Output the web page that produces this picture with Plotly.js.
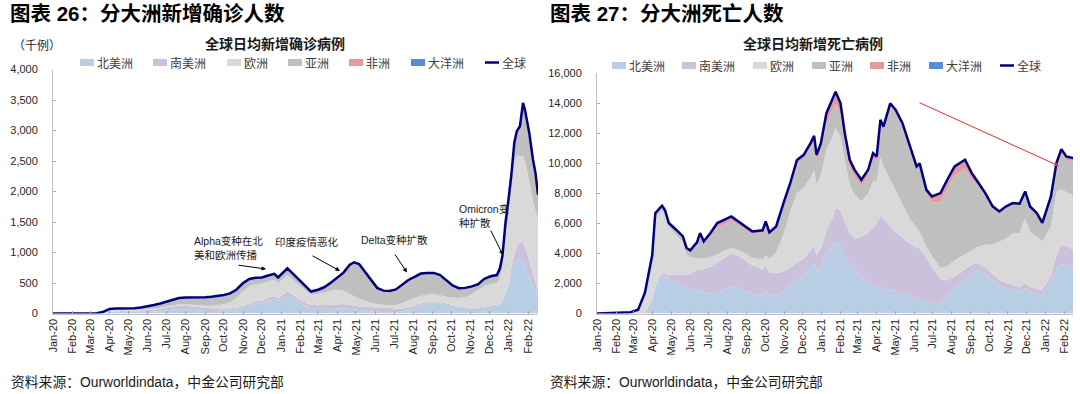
<!DOCTYPE html>
<html>
<head>
<meta charset="utf-8">
<script src="https://cdn.plot.ly/plotly-3.0.1.min.js"></script>
<style>
html,body{margin:0;padding:0;background:#fff;}
#chart{width:1080px;height:394px;}
</style>
</head>
<body>
<div id="chart"></div>
<script>
// ---------- shared ----------
const SERIES_NAMES = ['北美洲','南美洲','欧洲','亚洲','非洲','大洋洲'];
const TOTAL_NAME = '全球';
const SERIES_COLORS = ['#B9CDE5','#CCC1DA','#D9D9D9','#BFBFBF','#E19B9B','#558ED5'];
const TOTAL_COLOR = '#000080';
const TICK_DATES = ['2020-01-01','2020-02-01','2020-03-01','2020-04-01','2020-05-01','2020-06-01','2020-07-01','2020-08-01','2020-09-01','2020-10-01','2020-11-01','2020-12-01','2021-01-01','2021-02-01','2021-03-01','2021-04-01','2021-05-01','2021-06-01','2021-07-01','2021-08-01','2021-09-01','2021-10-01','2021-11-01','2021-12-01','2022-01-01','2022-02-01'];
const TICK_LABELS = ['Jan-20','Feb-20','Mar-20','Apr-20','May-20','Jun-20','Jul-20','Aug-20','Sep-20','Oct-20','Nov-20','Dec-20','Jan-21','Feb-21','Mar-21','Apr-21','May-21','Jun-21','Jul-21','Aug-21','Sep-21','Oct-21','Nov-21','Dec-21','Jan-22','Feb-22'];

// ---------- left chart: daily new cases (thousand) ----------
const L_DATES = ['2020-01-01','2020-01-21','2020-02-01','2020-02-11','2020-02-21','2020-03-01','2020-03-11','2020-03-21','2020-04-01','2020-04-11','2020-04-21','2020-05-01','2020-05-11','2020-05-21','2020-06-01','2020-06-11','2020-06-21','2020-07-01','2020-07-11','2020-07-21','2020-08-01','2020-08-11','2020-08-21','2020-09-01','2020-09-11','2020-09-21','2020-10-01','2020-10-11','2020-10-21','2020-11-01','2020-11-11','2020-11-21','2020-12-01','2020-12-11','2020-12-21','2020-12-27','2021-01-01','2021-01-11','2021-01-21','2021-02-01','2021-02-11','2021-02-18','2021-03-01','2021-03-11','2021-03-21','2021-04-01','2021-04-11','2021-04-21','2021-04-28','2021-05-06','2021-05-16','2021-05-26','2021-06-04','2021-06-14','2021-06-24','2021-07-04','2021-07-14','2021-07-24','2021-08-03','2021-08-13','2021-08-23','2021-09-03','2021-09-13','2021-09-23','2021-10-03','2021-10-13','2021-10-23','2021-11-03','2021-11-13','2021-11-23','2021-12-03','2021-12-13','2021-12-18','2021-12-22','2021-12-27','2022-01-01','2022-01-05','2022-01-10','2022-01-14','2022-01-19','2022-01-24','2022-01-27','2022-02-03','2022-02-09','2022-02-13','2022-02-17'];
const L_NA  = [0,0,0,0,0,0,0.3,5,27,33,35,34,31,28,26,27,35,50,64,72,68,60,52,46,41,44,46,52,62,90,125,165,180,215,235,205,230,300,240,170,115,90,80,75,73,78,82,75,68,58,45,36,30,25,22,22,30,55,90,135,165,175,165,148,128,105,85,82,88,100,118,135,150,190,330,450,650,820,870,880,860,780,600,440,370,300];
const L_SA  = [0,0,0,0,0,0,0,0.3,2,3,5,10,16,25,32,38,43,48,52,55,57,56,53,50,46,42,37,34,31,28,30,34,38,45,50,48,50,60,60,55,55,52,57,65,72,75,75,70,65,62,63,67,70,72,68,58,48,42,36,30,26,23,20,18,15,13,12,12,12,13,12,14,14,16,22,40,90,160,220,280,310,310,270,200,140,85];
const L_EU  = [0,0,0,0,0,0.3,3,16,38,36,30,24,20,18,17,17,17,17,18,19,22,26,30,35,40,50,68,100,160,250,290,280,270,265,270,245,260,270,250,220,185,165,185,205,230,235,215,180,150,120,95,72,55,45,42,55,90,118,122,120,120,118,115,110,118,138,168,228,285,340,355,345,420,550,900,1150,1250,1500,1500,1420,1410,1400,1300,1200,1180,1150];
const L_AS  = [0,0.5,2,3,2,1.7,1.7,3,6,8,10,14,18,24,37,49,62,70,79,95,102,108,113,126,141,142,147,136,128,122,110,95,90,84,80,77,82,90,75,73,55,45,60,77,117,193,288,464,546,559,465,352,251,215,214,232,268,302,324,345,334,334,319,256,193,155,152,120,92,114,118,120,130,150,190,200,200,250,340,440,824,814,752,645,580,390];
const L_AF  = [0,0,0,0,0,0,0,0.2,1,1,1.5,2,3,4,5,7,8,10,12,14,13,12,10,8,7,7,7,8,9,10,10,11,12,14,15,15,18,20,15,12,10,8,8,8,8,9,10,11,11,11,12,13,14,18,24,28,34,33,28,25,20,15,11,8,6,4,3,3,3,3,7,16,24,32,38,40,40,35,30,27,25,20,18,15,12,10];
const L_OC  = [0,0,0,0,0,0,0,0.2,0.5,0.3,0.1,0,0,0,0,0,0,0,0,0,0,0,0,0,0,0,0,0,0,0,0,0,0,0,0,0,0,0,0,0,0,0,0,0,0,0,0,0,0,0,0,0,0,0,0,0,0,0,0,0,0,0,0,0,0,0,0,0,0,0,0,0,2,12,20,20,20,35,30,23,25,20,20,20,18,15];
const L_TOT = [0,0.5,2,3,2,2,5,25,75,82,82,85,88,100,118,138,165,195,225,255,262,262,258,265,275,285,305,330,390,500,565,585,590,623,650,590,640,740,640,530,420,360,390,430,500,590,670,800,840,810,680,540,420,375,370,395,470,550,600,655,665,665,630,540,460,415,420,445,480,570,610,630,740,950,1500,1900,2250,2800,2990,3070,3454,3344,2960,2520,2300,1950];

// ---------- right chart: daily new deaths ----------
const R_DATES = ['2020-01-01','2020-01-25','2020-02-10','2020-02-25','2020-03-08','2020-03-19','2020-03-31','2020-04-05','2020-04-11','2020-04-16','2020-04-21','2020-04-27','2020-05-09','2020-05-20','2020-05-26','2020-06-01','2020-06-12','2020-06-17','2020-06-23','2020-07-04','2020-07-15','2020-07-27','2020-08-07','2020-08-18','2020-08-30','2020-09-10','2020-09-27','2020-10-02','2020-10-08','2020-10-19','2020-10-31','2020-11-11','2020-11-22','2020-12-03','2020-12-14','2020-12-20','2020-12-24','2020-12-31','2021-01-09','2021-01-18','2021-01-24','2021-02-01','2021-02-08','2021-02-16','2021-02-24','2021-03-07','2021-03-18','2021-03-26','2021-04-01','2021-04-07','2021-04-12','2021-04-23','2021-05-02','2021-05-13','2021-05-24','2021-06-05','2021-06-10','2021-06-21','2021-06-30','2021-07-14','2021-07-25','2021-08-06','2021-08-23','2021-09-03','2021-09-14','2021-09-25','2021-10-07','2021-10-18','2021-10-29','2021-11-09','2021-11-20','2021-11-29','2021-12-07','2021-12-18','2021-12-27','2022-01-10','2022-01-19','2022-01-27','2022-02-04','2022-02-15'];
const R_NA  = [0,0,0,0,0,30,900,1700,2300,2450,2400,2250,2100,1850,1700,1600,1550,1500,1400,1300,1400,1600,1820,1700,1500,1300,1250,1550,1200,1250,1500,1900,2250,2500,3000,3300,2800,3100,4000,4500,4750,4500,3800,3300,3000,2400,2100,1900,1850,1800,1700,1550,1500,1350,1200,1000,950,800,700,700,1100,1700,2300,2700,2850,2600,2200,1850,1700,1550,1450,1700,1450,1300,1250,2000,2900,3300,3200,3000];
const R_SA  = [0,0,0,0,0,2,40,80,130,180,230,290,500,750,850,1050,1350,1450,1550,1850,2000,2100,2200,2150,2050,1900,1700,1650,1550,1450,1300,1200,1150,1150,1200,1150,1100,1250,1500,1800,2300,2400,2300,2100,2000,2700,3300,3800,4200,4700,4600,4300,3900,3700,3500,3400,3400,2900,2450,1600,1100,800,650,560,520,480,420,380,350,330,320,300,320,330,340,500,1000,1300,1300,1250];
const R_EU  = [0,0,0,0,180,1200,2700,4600,4200,4250,3950,3200,2650,2150,1400,1100,800,750,700,600,550,500,350,400,450,500,650,700,900,1350,2500,3700,4650,4700,4900,5100,4700,4900,5400,5400,5300,4900,4100,3200,2900,2400,2600,3100,2800,3900,3500,3050,2800,2200,1700,1300,1100,750,700,750,950,1050,1000,950,1100,1500,2000,2550,2950,3450,3600,4350,3650,3500,3200,3300,4200,3700,3600,3650];
const R_AS  = [0,30,100,80,70,130,200,250,280,250,230,220,250,300,320,350,900,1500,1000,1400,1800,1750,1830,1650,1600,1600,1780,2080,1600,1600,1850,1650,1950,1950,1900,1880,1580,1700,1800,1800,1600,1450,1200,1100,1200,1000,1200,1550,1300,2200,2370,4850,5130,5200,4750,3900,4350,3550,3550,4400,5150,5650,5700,4750,3950,3250,2380,1900,2020,1920,1840,1680,1620,1460,1110,1800,1650,2380,2120,2230];
const R_AF  = [0,0,0,0,0,5,30,40,50,50,55,60,80,90,95,110,140,160,160,210,270,290,250,220,190,160,150,150,150,150,200,230,230,270,340,400,390,400,640,730,830,750,600,540,470,410,370,330,310,300,280,250,230,230,200,200,200,240,400,570,610,600,590,390,270,190,140,120,115,110,100,100,90,100,130,200,216,200,160,150];
const R_OC  = [0,0,0,0,0,0,5,5,5,5,5,5,0,0,0,0,0,0,0,0,5,10,20,20,15,10,10,8,5,0,0,0,0,0,0,0,0,0,0,0,0,0,0,0,0,0,0,0,0,0,0,0,0,0,0,0,0,0,0,0,0,0,0,0,0,0,0,0,0,0,0,0,0,0,0,0,50,70,80,70];
const R_TOT = [0,30,100,80,250,1370,3880,6680,6960,7180,6870,6025,5580,5140,4365,4210,4740,5360,4810,5360,6025,6250,6470,6140,5805,5470,5540,6140,5405,5800,7350,8680,10230,10570,11340,11830,10570,11350,13340,14230,14780,14000,12000,10240,9570,8910,9570,10680,10460,12900,12450,14000,13560,12680,11350,9800,10000,8240,7800,8020,8910,9800,10240,9350,8690,8020,7140,6800,7140,7360,7310,8130,7130,6690,6030,7800,10020,10950,10460,10350];

// ---------- build traces ----------
function buildTraces(dates, layers, total, xa, ya, group) {
  const tr = [];
  layers.forEach((vals, i) => {
    tr.push({
      type: 'scatter', x: dates, y: vals, name: SERIES_NAMES[i],
      xaxis: xa, yaxis: ya, stackgroup: group, mode: 'none',
      fillcolor: SERIES_COLORS[i], line: {width: 0},
      showlegend: false, hoverinfo: 'skip'
    });
  });
  tr.push({
    type: 'scatter', x: dates, y: total, name: TOTAL_NAME,
    xaxis: xa, yaxis: ya, mode: 'lines',
    line: {color: TOTAL_COLOR, width: 2.5}, showlegend: false, hoverinfo: 'skip'
  });
  return tr;
}

const traces = [].concat(
  buildTraces(L_DATES, [L_NA, L_SA, L_EU, L_AS, L_AF, L_OC], L_TOT, 'x', 'y', 'cases'),
  buildTraces(R_DATES, [R_NA, R_SA, R_EU, R_AS, R_AF, R_OC], R_TOT, 'x2', 'y2', 'deaths')
);

const W = 1080, H = 394;
const px = v => v / W;
const py = v => 1 - v / H;

const LAT = 'Liberation Sans, Arial, Noto Sans CJK SC, sans-serif';
const CJK = 'Noto Sans CJK SC, Liberation Sans, sans-serif';

const xCommon = {
  type: 'date', tickmode: 'array', tickvals: TICK_DATES, ticktext: TICK_LABELS,
  tickangle: -90, ticks: 'inside', ticklen: 3, tickcolor: '#A6A6A6',
  showline: true, linecolor: '#BFBFBF', linewidth: 1, showgrid: false, zeroline: false,
  tickfont: {family: LAT, size: 11, color: '#262626'}, fixedrange: true
};
const yCommon = {
  ticks: 'inside', ticklen: 3, tickcolor: '#A6A6A6', showline: true, linecolor: '#BFBFBF',
  linewidth: 1, showgrid: false, zeroline: false, tickformat: ',d',
  tickfont: {family: LAT, size: 11, color: '#262626'}, ticklabelstandoff: 12, fixedrange: true
};

const arrow = (tx, ty, hx, hy, color) => ({
  xref: 'paper', yref: 'paper', x: px(hx), y: py(hy), ax: tx - hx, ay: ty - hy,
  axref: 'pixel', ayref: 'pixel', text: '', showarrow: true, arrowhead: 2,
  arrowsize: 0.9, arrowwidth: 1, arrowcolor: color
});
const label = (text, x, y, opts) => Object.assign({
  xref: 'paper', yref: 'paper', x: px(x), y: py(y), text: text, showarrow: false,
  xanchor: 'left', yanchor: 'middle', align: 'left',
  font: {family: LAT, size: 10.5, color: '#1a1a1a'}
}, opts || {});

// ---------- legends (swatch + text), drawn in paper space ----------
const LEGEND_LEFT_X = [80, 153, 227, 288, 349, 411, 485];
const LEGEND_RIGHT_X = [612, 682, 753, 812, 870, 929, 1000];
function legendParts(xs, yc) {
  const shapes = [], anns = [];
  SERIES_NAMES.forEach((nm, i) => {
    shapes.push({type: 'rect', xref: 'paper', yref: 'paper',
      x0: px(xs[i]), x1: px(xs[i] + 14), y0: py(yc + 3.5), y1: py(yc - 3.5),
      fillcolor: SERIES_COLORS[i], line: {width: 0}});
    anns.push(label(nm, xs[i] + 15, yc, {font: {family: CJK, size: 12, color: '#404040'}}));
  });
  shapes.push({type: 'line', xref: 'paper', yref: 'paper',
    x0: px(xs[6]), x1: px(xs[6] + 14), y0: py(yc), y1: py(yc),
    line: {color: TOTAL_COLOR, width: 2.5}});
  anns.push(label(TOTAL_NAME, xs[6] + 15, yc, {font: {family: CJK, size: 12, color: '#404040'}}));
  return {shapes, anns};
}
const legL = legendParts(LEGEND_LEFT_X, 62.5);
const legR = legendParts(LEGEND_RIGHT_X, 65.5);

const layout = {
  width: W, height: H, margin: {l: 0, r: 0, t: 0, b: 0},
  paper_bgcolor: '#fff', plot_bgcolor: '#fff', showlegend: false,
  xaxis: Object.assign({}, xCommon, {domain: [px(53), px(538)], range: ['2020-01-01', '2022-02-17'], anchor: 'y'}),
  yaxis: Object.assign({}, yCommon, {domain: [py(313.5), py(69.5)], range: [0, 4000], dtick: 500, anchor: 'x'}),
  xaxis2: Object.assign({}, xCommon, {domain: [px(597), px(1073)], range: ['2020-01-01', '2022-02-15'], anchor: 'y2'}),
  yaxis2: Object.assign({}, yCommon, {domain: [py(313.5), py(73.3)], range: [0, 16000], dtick: 2000, anchor: 'x2'}),
  shapes: [].concat(legL.shapes, legR.shapes),
  annotations: [
    label('<b>图表 26：分大洲新增确诊人数</b>', 8, 13, {font: {family: LAT, size: 20.5, color: '#000'}}),
    label('<b>图表 27：分大洲死亡人数</b>', 548, 13, {font: {family: LAT, size: 20.5, color: '#000'}}),
    label('<b>全球日均新增确诊病例</b>', 275, 43, {xanchor: 'center', font: {family: CJK, size: 14, color: '#1a1a1a'}}),
    label('<b>全球日均新增死亡病例</b>', 813, 43, {xanchor: 'center', font: {family: CJK, size: 14, color: '#1a1a1a'}}),
    label('（千例）', 37, 44, {xanchor: 'center', font: {family: CJK, size: 12, color: '#262626'}}),
    label('资料来源：Ourworldindata，中金公司研究部', 9, 382, {font: {family: LAT, size: 13.8, color: '#1a1a1a'}}),
    label('资料来源：Ourworldindata，中金公司研究部', 548, 382, {font: {family: LAT, size: 13.8, color: '#1a1a1a'}}),
    label('Alpha变种在北<br>美和欧洲传播', 192, 248),
    label('印度疫情恶化', 273, 242),
    label('Delta变种扩散', 359, 240),
    label('Omicron变<br>种扩散', 457, 216),
    arrow(237, 265, 266, 269, '#000'),
    arrow(311, 255, 340, 271, '#000'),
    arrow(394, 253, 407, 272.5, '#000'),
    arrow(490, 229, 503, 255, '#000'),
    arrow(918, 102, 1059, 166, '#E03030')
  ].concat(legL.anns, legR.anns)
};

Plotly.newPlot('chart', traces, layout, {staticPlot: true, displayModeBar: false});
</script>
</body>
</html>
